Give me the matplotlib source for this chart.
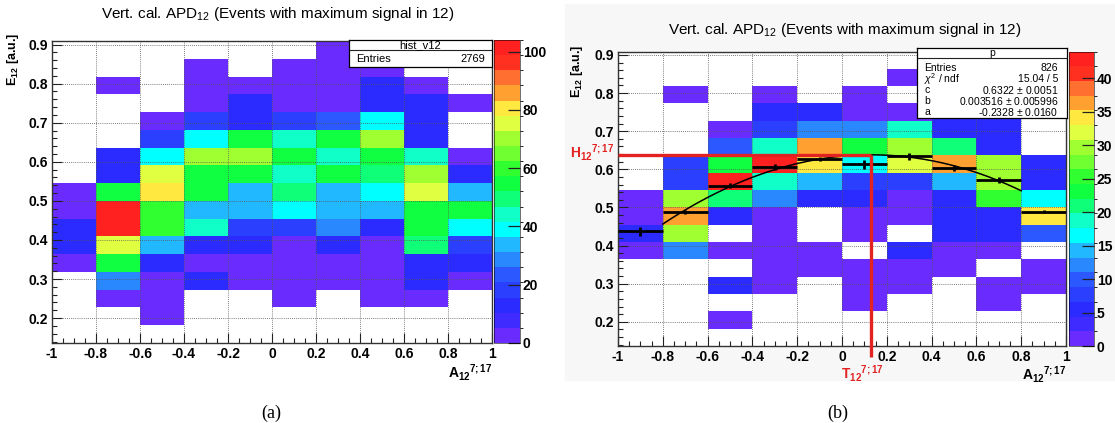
import numpy as np
import matplotlib
matplotlib.use('Agg')
import matplotlib.pyplot as plt
from matplotlib.colors import ListedColormap, BoundaryNorm
from matplotlib.ticker import MultipleLocator

plt.rcParams['font.family'] = ['Liberation Sans', 'DejaVu Sans']
plt.rcParams['axes.unicode_minus'] = False
plt.rcParams['mathtext.fontset'] = 'custom'
plt.rcParams['mathtext.rm'] = 'Liberation Sans'
plt.rcParams['mathtext.it'] = 'Liberation Sans:italic'
plt.rcParams['mathtext.bf'] = 'Liberation Sans:bold'

# histogram binning: 10 bins in x, y bins are k/22 (rows 3..19 are shown)
x_edges = [-1.0, -0.8, -0.6, -0.4, -0.2, 0.0, 0.2, 0.4, 0.6, 0.8, 1.0]
y_edges = np.arange(3, 21) / 22.0

# (a) bin contents, rows from top (0.864-0.909) to bottom (0.136-0.182)
counts_a = [
    [0, 0, 0, 0, 0, 0, 2, 0, 0, 0],
    [0, 0, 0, 2, 0, 2, 2, 3, 0, 0],
    [0, 2, 0, 2, 2, 2, 2, 12, 2, 0],
    [0, 0, 0, 3, 12, 3, 3, 12, 12, 3],
    [0, 0, 3, 17, 12, 17, 22, 38, 12, 0],
    [0, 0, 17, 38, 53, 43, 53, 69, 12, 0],
    [0, 12, 38, 69, 69, 53, 43, 53, 45, 2],
    [0, 12, 74, 53, 53, 43, 53, 48, 69, 12],
    [2, 53, 79, 53, 33, 48, 33, 38, 74, 33],
    [4, 104, 59, 33, 33, 38, 33, 33, 53, 53],
    [12, 101, 59, 43, 17, 17, 28, 12, 53, 38],
    [12, 74, 33, 12, 12, 2, 12, 2, 48, 17],
    [3, 53, 12, 3, 3, 3, 2, 3, 12, 12],
    [0, 28, 4, 12, 3, 4, 3, 3, 12, 3],
    [0, 4, 3, 0, 0, 3, 0, 2, 3, 0],
    [0, 0, 2, 0, 0, 0, 0, 0, 0, 0],
    [0, 0, 0, 0, 0, 0, 0, 0, 0, 0],
]

# (b) bin contents, same layout
counts_b = [
    [0, 0, 0, 0, 0, 0, 0, 0, 0, 0],
    [0, 0, 0, 0, 0, 0, 1, 0, 0, 0],
    [0, 1, 0, 1, 0, 1, 0, 0, 0, 0],
    [0, 0, 0, 5, 5, 1, 1, 5, 5, 0],
    [0, 0, 1, 8, 12, 12, 18, 5, 5, 0],
    [0, 0, 10, 18, 36, 23, 30, 21, 5, 0],
    [0, 8, 23, 44, 34, 16, 32, 36, 30, 5],
    [0, 8, 42, 18, 14, 8, 8, 14, 30, 5],
    [1, 30, 21, 12, 5, 5, 1, 5, 25, 16],
    [1, 37, 5, 1, 0, 2, 1, 5, 5, 34],
    [5, 30, 0, 1, 0, 1, 0, 5, 5, 10],
    [1, 12, 1, 2, 1, 0, 5, 1, 1, 0],
    [0, 0, 0, 1, 1, 1, 1, 1, 0, 1],
    [0, 0, 5, 1, 0, 1, 1, 0, 1, 1],
    [0, 0, 0, 0, 0, 1, 0, 0, 1, 0],
    [0, 0, 1, 0, 0, 0, 0, 0, 0, 0],
    [0, 0, 0, 0, 0, 0, 0, 0, 0, 0],
]

# profile points of (b)
prof_x = [-0.9, -0.7, -0.5, -0.3, -0.1, 0.1, 0.3, 0.5, 0.7, 0.9]
prof_y = [0.437, 0.488, 0.557, 0.607, 0.627, 0.613, 0.634, 0.603, 0.572, 0.489]
prof_err = [0.012, 0.006, 0.006, 0.008, 0.005, 0.012, 0.010, 0.008, 0.008, 0.004]

# drawn fit curve: parabola with apex (T, H)
peak_x = 0.13
peak_y = 0.638
curv = -0.21

stats_names = ['Entries', r'$\chi^2$ / ndf', 'c', 'b', 'a']
stats_vals = ['826', '15.04 / 5', '0.6322 $\\pm$ 0.0051',
              '0.003516 $\\pm$ 0.005996', '-0.2328 $\\pm$ 0.0160']

root_colors = ['#6a2bff', '#3f2bff', '#2b2bff', '#2b40ff', '#2b58ff',
               '#2a88ff', '#22b8ff', '#00ffff', '#10ffc8', '#10ff78',
               '#10ff40', '#30ff30', '#70ff30', '#a0ff30', '#e0ff40',
               '#ffe840', '#ffa030', '#ff7030', '#ff3020', '#ff2020']
root_cmap = ListedColormap(root_colors)

W, H = 1115, 423
fig = plt.figure(figsize=(W / 100, H / 100), dpi=100)
bg = plt.Rectangle((565 / W, 1 - 380 / H), 550 / W, 376 / H,
                   transform=fig.transFigure, color='#f7f7f7', zorder=-10)
fig.patches.append(bg)

A_LABEL = r'$\mathbf{{A_{12}}^{7{;}17}}$'
E_LABEL = r'$\mathbf{E_{12}}$ [a.u.]'
TITLE = 'Vert. cal. APD$_{12}$ (Events with maximum signal in 12)'


def px_axes(x0, y0, x1, y1):
    return fig.add_axes([x0 / W, 1 - y1 / H, (x1 - x0) / W, (y1 - y0) / H])


def fmt(v):
    return '%g' % (round(v, 2) + 0.0)


def draw_hist(ax, cax, counts, cticks):
    data = np.ma.masked_equal(np.array(counts[::-1], dtype=float), 0)
    norm = BoundaryNorm(np.linspace(0, data.max(), 21), 20)
    mesh = ax.pcolormesh(x_edges, y_edges, data, cmap=root_cmap, norm=norm)
    ax.set_xlim(-1, 1)
    ax.set_ylim(y_edges[0], y_edges[-1])
    xt = [-1, -0.8, -0.6, -0.4, -0.2, 0, 0.2, 0.4, 0.6, 0.8, 1]
    yt = [0.2, 0.3, 0.4, 0.5, 0.6, 0.7, 0.8, 0.9]
    ax.set_xticks(xt)
    ax.set_xticklabels([fmt(v) for v in xt], fontweight='bold', fontsize=10)
    ax.set_yticks(yt)
    ax.set_yticklabels([fmt(v) for v in yt], fontweight='bold', fontsize=10)
    ax.xaxis.set_minor_locator(MultipleLocator(0.05))
    ax.yaxis.set_minor_locator(MultipleLocator(0.02))
    ax.tick_params(which='both', direction='in', top=False, right=False,
                   width=0.8, color='#222')
    ax.tick_params(which='major', length=7, pad=3)
    ax.tick_params(which='minor', length=3.5)
    ax.grid(True, which='major', linestyle=(0, (1, 1.5)), color='#555', linewidth=0.6)
    ax.set_axisbelow('line')
    for s in ax.spines.values():
        s.set_linewidth(1.0)
        s.set_color('#333')
    cb = fig.colorbar(mesh, cax=cax, ticks=cticks)
    cb.outline.set_linewidth(0.4)
    cax.tick_params(direction='in', length=9, width=0.9, color='#222', pad=2)
    cax.set_yticklabels([str(t) for t in cticks], fontweight='bold', fontsize=10)
    return mesh


# ---- panel (a)
ax_a = px_axes(52, 41, 492, 343)
cax_a = px_axes(494, 40, 520, 343)
draw_hist(ax_a, cax_a, counts_a, [0, 20, 40, 60, 80, 100])
ax_a.text(1.0, -0.063, A_LABEL, transform=ax_a.transAxes,
          ha='right', va='top', fontsize=10)
fig.text(13 / W, 1 - 33 / H, E_LABEL, rotation=90, ha='center',
         va='top', fontsize=9, fontweight='bold')
fig.text(278 / W, 1 - 14 / H, TITLE, ha='center', va='center', fontsize=11)

box_a = px_axes(349, 40, 492, 67)
box_a.set_xticks([])
box_a.set_yticks([])
box_a.axhline(0.63, color='#222', lw=0.8)
box_a.text(0.5, 0.81, 'hist_v12', ha='center', va='center', fontsize=8)
box_a.text(0.05, 0.31, 'Entries', ha='left', va='center', fontsize=8)
box_a.text(0.95, 0.31, '2769', ha='right', va='center', fontsize=8)
for s in box_a.spines.values():
    s.set_linewidth(0.9)

# ---- panel (b)
ax_b = px_axes(618, 51.5, 1066, 346)
ax_b.set_facecolor('white')
cax_b = px_axes(1069, 51.5, 1094, 346)
draw_hist(ax_b, cax_b, counts_b, [0, 5, 10, 15, 20, 25, 30, 35, 40])

ax_b.errorbar(prof_x, prof_y, xerr=0.1, yerr=prof_err, fmt='none', ecolor='black',
              elinewidth=2.0, capsize=0, zorder=4)
fit_x = np.linspace(-0.8, 0.8, 200)
ax_b.plot(fit_x, peak_y + curv * (fit_x - peak_x) ** 2, color='black', lw=1.1, zorder=4)

red = '#e32222'
ax_b.plot([-1, peak_x], [peak_y, peak_y], color=red, lw=2.4, zorder=5, clip_on=False,
          solid_capstyle='butt')
ax_b.plot([peak_x, peak_x], [peak_y, y_edges[0] - 0.029], color=red, lw=2.4, zorder=5,
          clip_on=False, solid_capstyle='butt')
ax_b.annotate(r'$\mathbf{{H_{12}}^{7{;}17}}$', xy=(-1, peak_y), xytext=(-3, 2),
              textcoords='offset points', ha='right', va='center', color=red,
              fontsize=10, annotation_clip=False)
ax_b.annotate(r'$\mathbf{{T_{12}}^{7{;}17}}$', xy=(peak_x, y_edges[0]), xytext=(-6, -12),
              textcoords='offset points', ha='center', va='top', color=red,
              fontsize=10, annotation_clip=False)
ax_b.text(1.0, -0.061, A_LABEL, transform=ax_b.transAxes,
          ha='right', va='top', fontsize=10)
fig.text(577 / W, 1 - 45 / H, E_LABEL, rotation=90, ha='center',
         va='top', fontsize=9, fontweight='bold')
fig.text(845 / W, 1 - 30 / H, TITLE, ha='center', va='center', fontsize=11)

box_b = px_axes(917, 48, 1067, 118)
box_b.set_xticks([])
box_b.set_yticks([])
box_b.axhline(0.857, color='#222', lw=0.8)
box_b.text(0.5, 0.93, 'p', ha='center', va='center', fontsize=7.5)
row_y = [0.714, 0.557, 0.40, 0.243, 0.086]
for name, val, yy in zip(stats_names, stats_vals, row_y):
    box_b.text(0.05, yy, name, ha='left', va='center', fontsize=7.5)
    box_b.text(0.94, yy, val, ha='right', va='center', fontsize=7.5)
for s in box_b.spines.values():
    s.set_linewidth(0.9)

fig.text(271 / W, 1 - 413 / H, '(a)', ha='center', va='center', fontsize=13,
         family='Liberation Serif')
fig.text(838 / W, 1 - 413 / H, '(b)', ha='center', va='center', fontsize=13,
         family='Liberation Serif')

fig.savefig('out.png', dpi=100)
